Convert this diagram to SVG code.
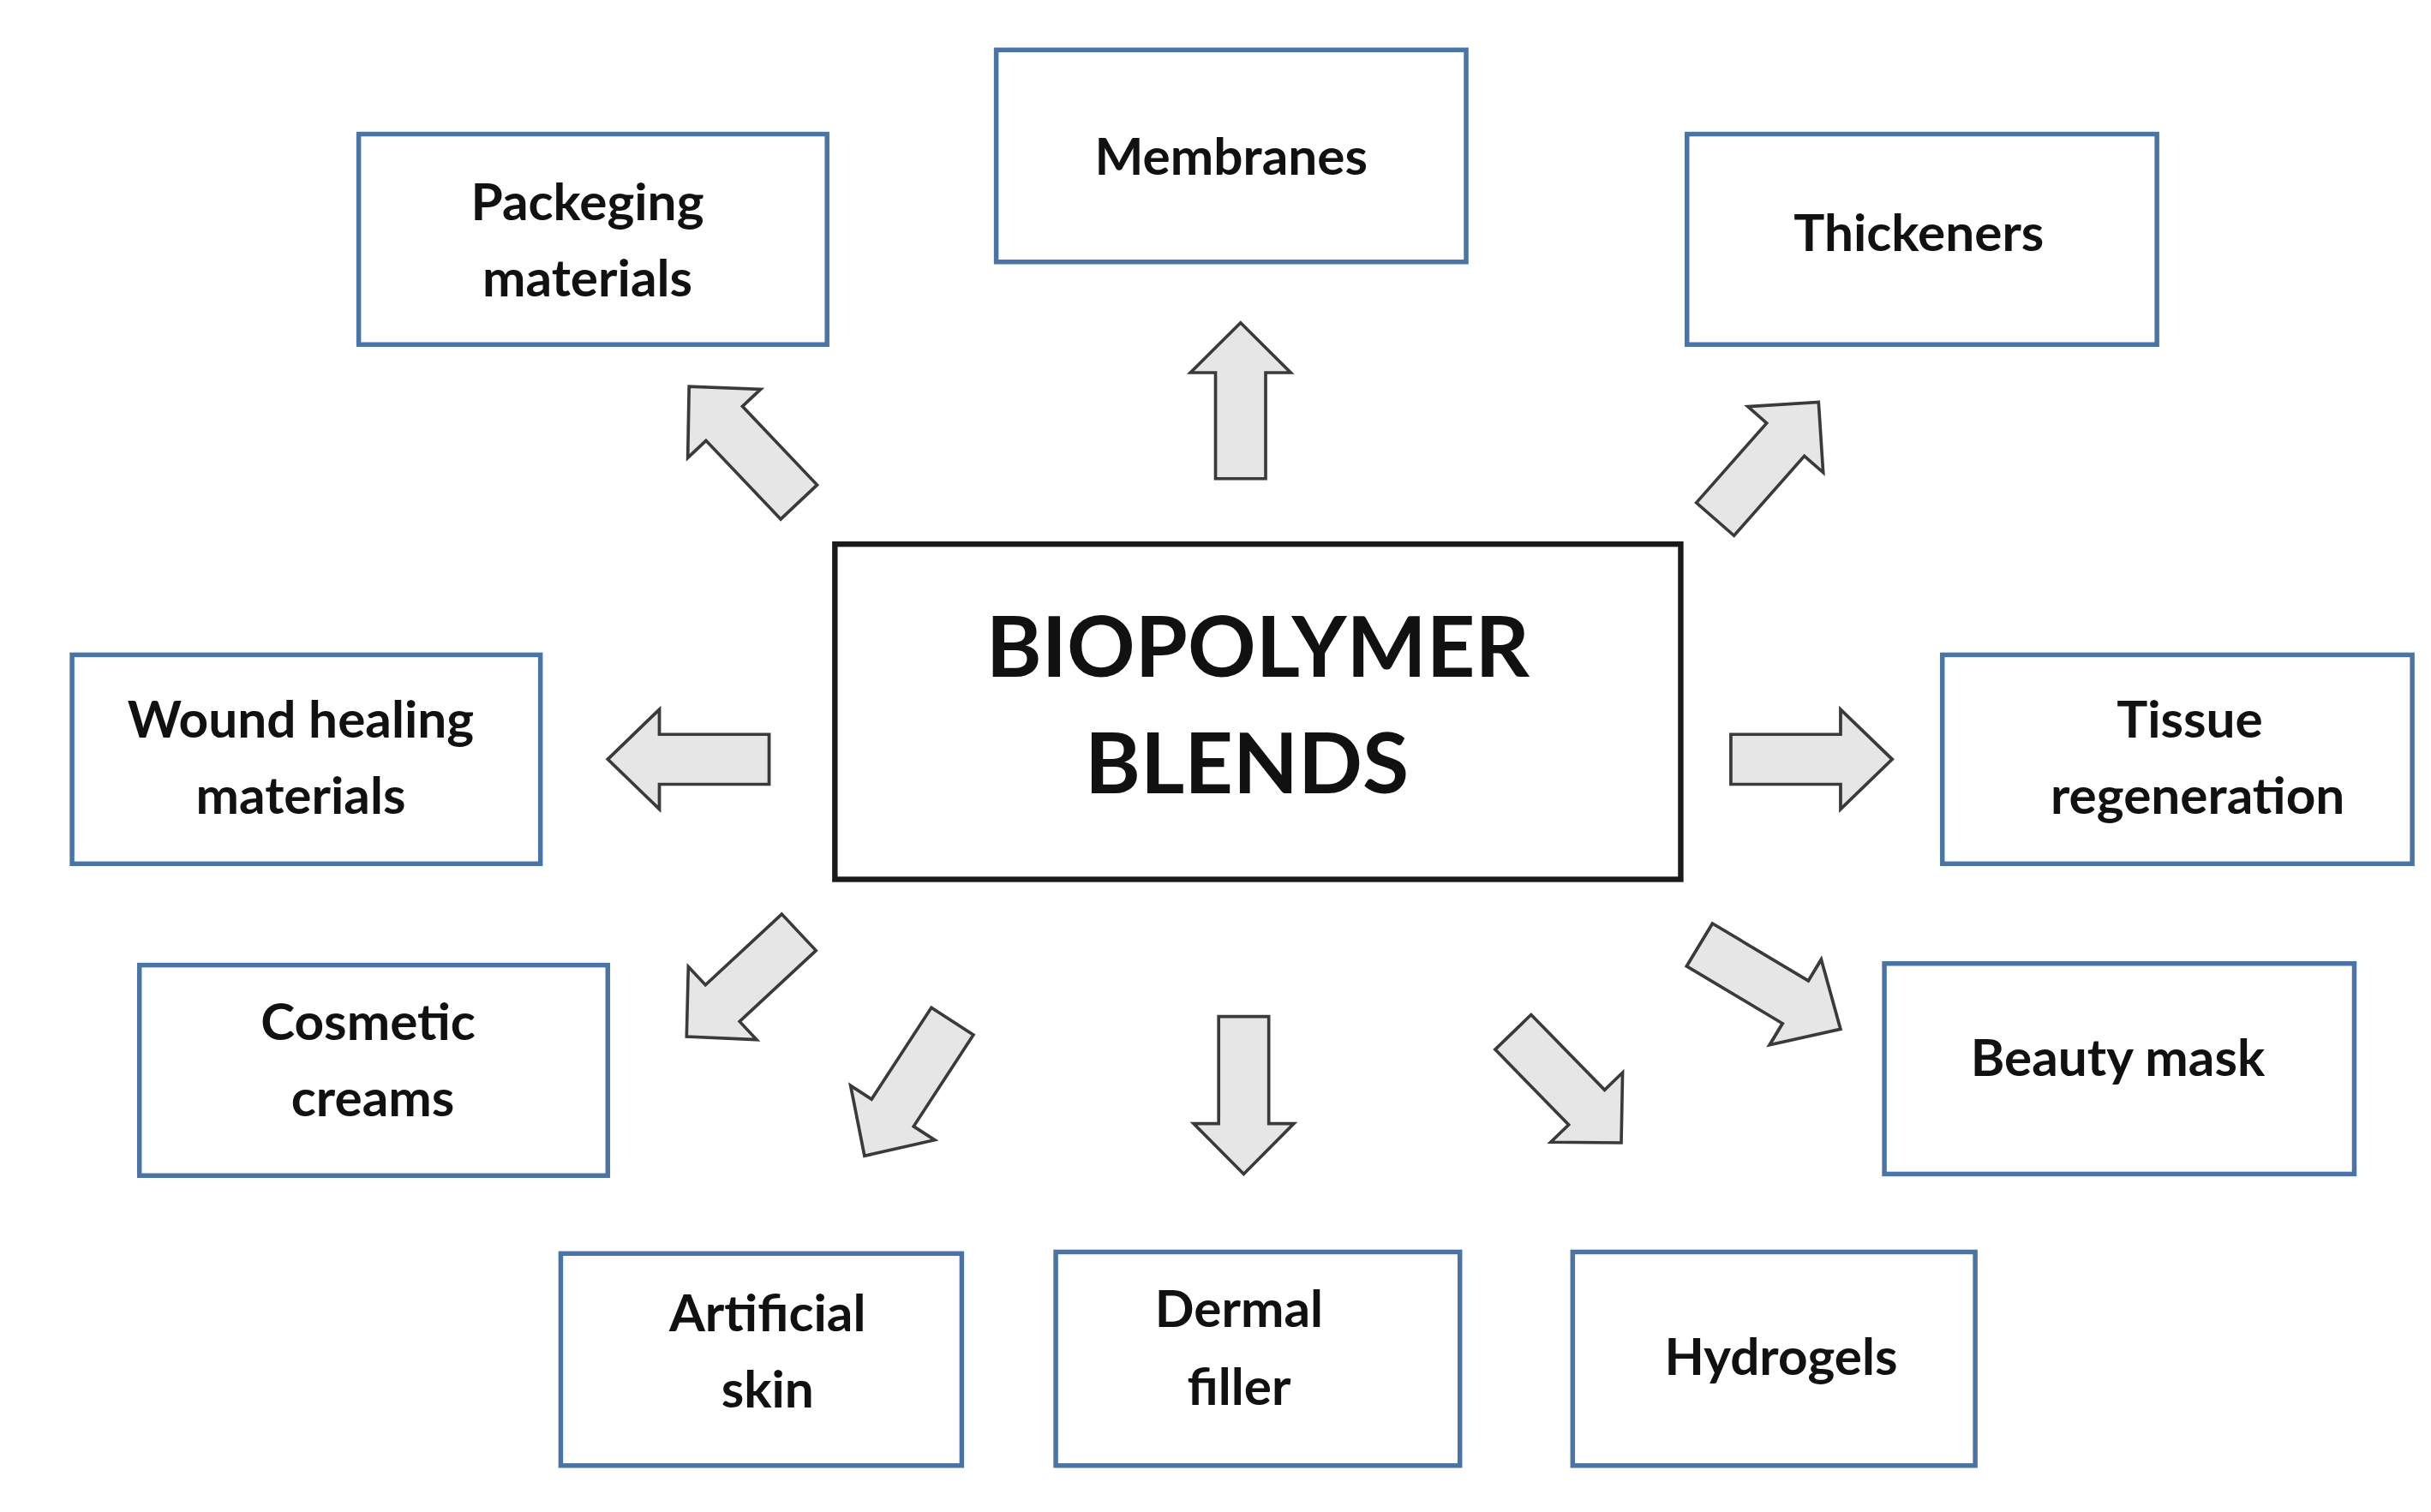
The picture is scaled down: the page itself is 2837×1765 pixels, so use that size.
<svg xmlns="http://www.w3.org/2000/svg" xmlns:xlink="http://www.w3.org/1999/xlink" width="2837" height="1765" viewBox="0 0 2837 1765">
<style>
.box{fill:#fff;stroke:#4a73a6;stroke-width:3}
.t{font-family:Lato,"Open Sans","Liberation Sans",sans-serif;font-weight:bold;font-size:33px;fill:#111;text-anchor:middle}
.c{font-size:54px}
.ar{fill:#e6e6e6;stroke:#3a3a3a;stroke-width:2;stroke-linejoin:miter}
</style>
<defs>
<path id="a" class="ar" d="M0,-16 L68,-16 L68,-32 L100,0 L68,32 L68,16 L0,16 Z"/>
</defs>
<rect width="2837" height="1765" fill="#fff"/>
<g transform="scale(1.828 1.82)">
<g id="center"><rect x="533" y="349" width="540" height="215" fill="#fff" stroke="#1a1a1a" stroke-width="3.5"/><text class="t c" x="803" y="434">BIOPOLYMER</text><text class="t c" x="796" y="509">BLENDS</text></g>
<g id="packaging"><rect class="box" x="229" y="86" width="299" height="135"/><text class="t" x="375" y="141">Packeging</text><text class="t" x="375" y="190">materials</text></g>
<g id="membranes"><rect class="box" x="636" y="32" width="300" height="136"/><text class="t" x="786" y="112">Membranes</text></g>
<g id="thickeners"><rect class="box" x="1077" y="86" width="300" height="135"/><text class="t" x="1225" y="161">Thickeners</text></g>
<g id="wound"><rect class="box" x="46" y="420" width="299" height="134"/><text class="t" x="192" y="473">Wound healing</text><text class="t" x="192" y="522">materials</text></g>
<g id="tissue"><rect class="box" x="1240" y="420" width="300" height="134"/><text class="t" x="1398" y="473">Tissue</text><text class="t" x="1403" y="522">regeneration</text></g>
<g id="cosmetic"><rect class="box" x="89" y="619" width="299" height="135"/><text class="t" x="235" y="667">Cosmetic</text><text class="t" x="238" y="716">creams</text></g>
<g id="beauty"><rect class="box" x="1203" y="618" width="300" height="135"/><text class="t" x="1352" y="690">Beauty mask</text></g>
<g id="artificial"><rect class="box" x="358" y="804" width="256" height="136"/><text class="t" x="490" y="854">Artificial</text><text class="t" x="490" y="903">skin</text></g>
<g id="dermal"><rect class="box" x="674" y="803" width="258" height="137"/><text class="t" x="791" y="851">Dermal</text><text class="t" x="791" y="901">filler</text></g>
<g id="hydrogels"><rect class="box" x="1004" y="803" width="257" height="137"/><text class="t" x="1137" y="882">Hydrogels</text></g>
<g id="connectors">
<use xlink:href="#a" transform="translate(792,307) rotate(-90)"/>
<use xlink:href="#a" transform="translate(794,652) rotate(90) scale(1.01,1)"/>
<use xlink:href="#a" transform="translate(491,487) rotate(180) scale(1.03,1)"/>
<use xlink:href="#a" transform="translate(1105,487) scale(1.03,1)"/>
<use xlink:href="#a" transform="translate(510,322) rotate(226.6) scale(1.02,1)"/>
<use xlink:href="#a" transform="translate(1095,333) rotate(-48.7)"/>
<use xlink:href="#a" transform="translate(510,598) rotate(137) scale(0.98,1)"/>
<use xlink:href="#a" transform="translate(608,655) rotate(123) scale(1.03,1)"/>
<use xlink:href="#a" transform="translate(966,662) rotate(45.8) scale(0.99,1)"/>
<use xlink:href="#a" transform="translate(1085,606) rotate(31) scale(1.05,1)"/>
</g>
</g>
</svg>
